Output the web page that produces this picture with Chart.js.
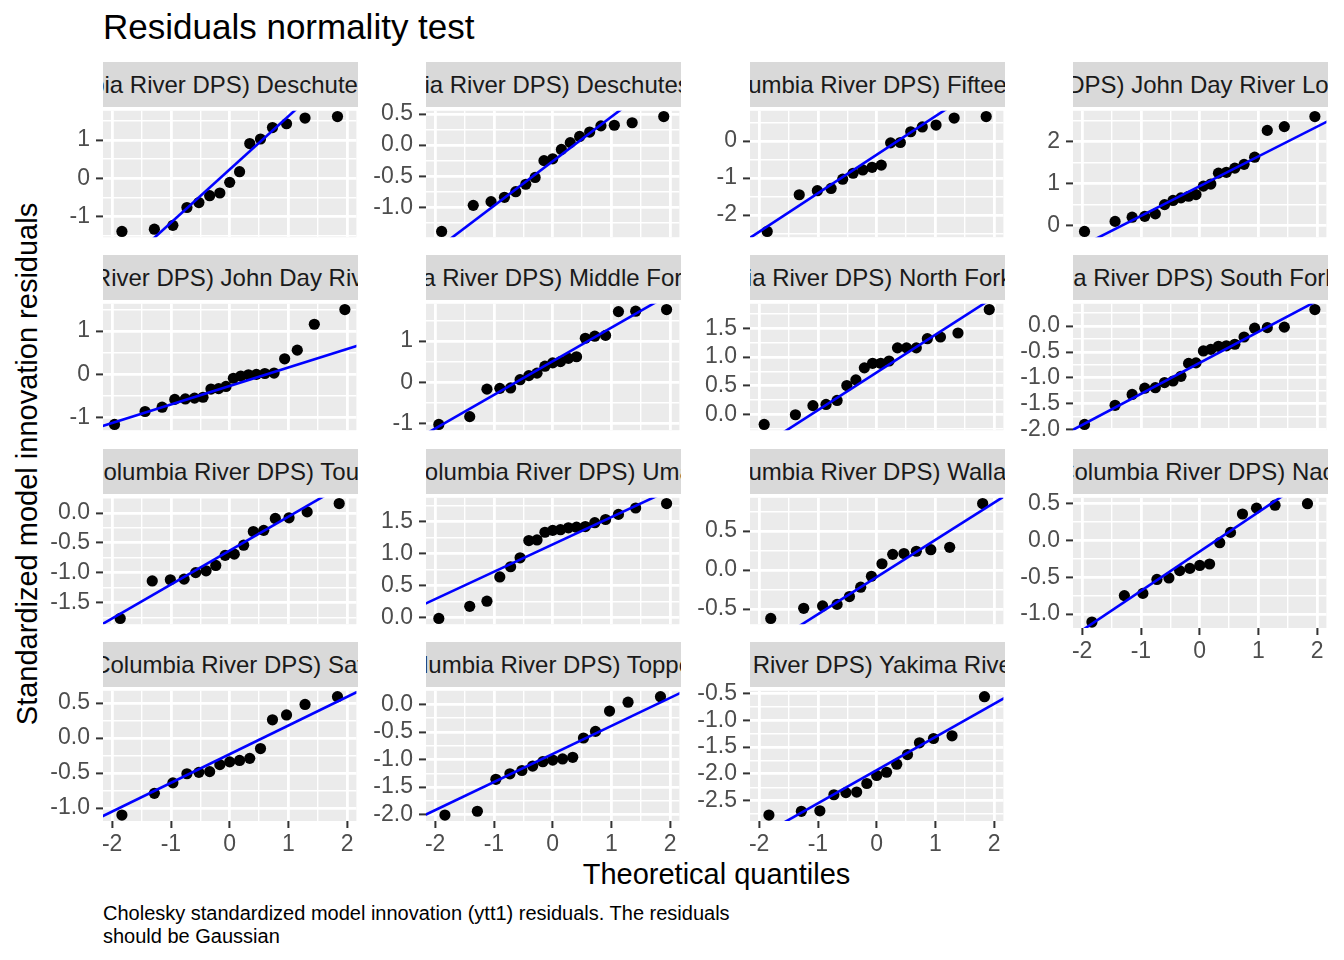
<!DOCTYPE html>
<html>
<head>
<meta charset="utf-8">
<script src="https://cdn.jsdelivr.net/npm/chart.js@4.4.1/dist/chart.umd.min.js"></script>
<style>
  body { margin: 0; background: #fff; font-family: "Liberation Sans", Arial, sans-serif; }
  #page { position: relative; width: 1344px; height: 960px; overflow: hidden; }
  .strip { position: absolute; height: 45px; background: #d9d9d9; color: #1a1a1a; font-size: 24px;
           display: flex; justify-content: center; align-items: center; overflow: hidden; white-space: nowrap; }
  .strip span { flex-shrink: 0; }
  canvas { position: absolute; }
  .title { position: absolute; left: 103px; top: 7px; font-size: 35px; line-height: 40px; color: #000; }
  .xtitle { position: absolute; left: 103px; width: 1227px; top: 857px; text-align: center; font-size: 29px; line-height: 34px; }
  .ytitle { position: absolute; left: -273px; top: 449px; width: 600px; height: 30px; line-height: 30px; text-align: center;
            font-size: 29px; transform: rotate(-90deg); }
  .caption { position: absolute; left: 103px; top: 902px; font-size: 20px; line-height: 23px; }
</style>
</head>
<body>
<div id="page">
  <div class="title">Residuals normality test</div>
  <div class="ytitle">Standardized model innovation residuals</div>
  <div class="xtitle">Theoretical quantiles</div>
  <div class="caption">Cholesky standardized model innovation (ytt1) residuals. The residuals<br>should be Gaussian</div>
</div>
<script>
// theoretical normal quantiles, one list per sample size
const q14 = [-1.803, -1.242, -0.921, -0.674, -0.464, -0.272, -0.090, 0.090, 0.272, 0.464, 0.674, 0.921, 1.242, 1.803];
const q15 = [-1.834, -1.282, -0.967, -0.728, -0.524, -0.341, -0.168, 0, 0.168, 0.341, 0.524, 0.728, 0.967, 1.282, 1.834];
const q16 = [-1.863, -1.318, -1.010, -0.776, -0.579, -0.402, -0.237, -0.078, 0.078, 0.237, 0.402, 0.579, 0.776, 1.010, 1.318, 1.863];
const q17 = [-1.890, -1.352, -1.049, -0.821, -0.629, -0.458, -0.299, -0.148, 0, 0.148, 0.299, 0.458, 0.629, 0.821, 1.049, 1.352, 1.890];
const q18 = [-1.915, -1.383, -1.085, -0.862, -0.674, -0.508, -0.354, -0.210, -0.070, 0.070, 0.210, 0.354, 0.508, 0.674, 0.862, 1.085, 1.383, 1.915];
const q19 = [-1.938, -1.412, -1.119, -0.900, -0.716, -0.555, -0.406, -0.267, -0.132, 0, 0.132, 0.267, 0.406, 0.555, 0.716, 0.900, 1.119, 1.412, 1.938];
const q20 = [-1.960, -1.440, -1.150, -0.935, -0.755, -0.598, -0.454, -0.319, -0.189, -0.063, 0.063, 0.189, 0.319, 0.454, 0.598, 0.755, 0.935, 1.150, 1.440, 1.960];

// sample residuals (sorted) per population
const resDeschutesE = [-1.40, -1.34, -1.24, -0.77, -0.64, -0.46, -0.39, -0.11, 0.17, 0.91, 1.03, 1.33, 1.43, 1.58, 1.62];
const resDeschutesW = [-1.39, -0.97, -0.91, -0.84, -0.75, -0.63, -0.52, -0.25, -0.22, -0.07, 0.04, 0.14, 0.21, 0.31, 0.32, 0.36, 0.46];
const resFifteenmile = [-2.44, -1.45, -1.34, -1.28, -1.03, -0.87, -0.78, -0.71, -0.65, -0.05, -0.04, 0.25, 0.38, 0.43, 0.62, 0.66];
const resJohnDayLower = [-0.14, 0.10, 0.20, 0.22, 0.28, 0.50, 0.60, 0.66, 0.70, 0.74, 0.94, 0.99, 1.25, 1.27, 1.37, 1.46, 1.63, 2.27, 2.36, 2.60];
const resJohnDayUpper = [-1.16, -0.86, -0.76, -0.58, -0.57, -0.55, -0.53, -0.34, -0.33, -0.28, -0.09, -0.04, -0.01, 0.00, 0.02, 0.03, 0.36, 0.56, 1.16, 1.50];
const resMiddleFork = [-1.03, -0.84, -0.17, -0.15, -0.14, 0.06, 0.16, 0.22, 0.39, 0.47, 0.50, 0.58, 0.62, 1.07, 1.12, 1.14, 1.72, 1.73, 1.77];
const resNorthFork = [-0.18, -0.01, 0.15, 0.17, 0.24, 0.50, 0.60, 0.81, 0.89, 0.89, 0.93, 1.16, 1.16, 1.16, 1.32, 1.35, 1.42, 1.83];
const resSouthFork = [-1.90, -1.53, -1.32, -1.20, -1.19, -1.09, -1.06, -0.97, -0.72, -0.71, -0.48, -0.45, -0.39, -0.38, -0.35, -0.21, -0.04, -0.03, -0.02, 0.32];
const resTouchet = [-1.77, -1.14, -1.12, -1.11, -1.00, -0.97, -0.88, -0.71, -0.69, -0.54, -0.31, -0.29, -0.09, -0.08, 0.02, 0.16];
const resUmatilla = [-0.02, 0.17, 0.25, 0.63, 0.79, 0.93, 1.20, 1.21, 1.33, 1.36, 1.37, 1.40, 1.41, 1.42, 1.48, 1.53, 1.61, 1.71, 1.78];
const resWallaWalla = [-0.62, -0.49, -0.46, -0.44, -0.34, -0.22, -0.08, 0.08, 0.20, 0.21, 0.24, 0.26, 0.29, 0.85];
const resNaches = [-1.11, -0.75, -0.72, -0.53, -0.51, -0.41, -0.38, -0.34, -0.32, -0.03, 0.11, 0.36, 0.44, 0.48, 0.50];
const resSatus = [-1.10, -0.79, -0.64, -0.51, -0.49, -0.48, -0.38, -0.34, -0.32, -0.29, -0.15, 0.26, 0.33, 0.48, 0.59];
const resToppenish = [-2.01, -1.94, -1.36, -1.26, -1.20, -1.12, -1.04, -1.01, -0.99, -0.96, -0.61, -0.49, -0.12, 0.04, 0.14];
const resYakima = [-2.77, -2.70, -2.69, -2.39, -2.35, -2.34, -2.18, -2.03, -1.97, -1.82, -1.64, -1.42, -1.34, -1.29, -0.56];

const populations = [
  "Deschutes River Eastside", "Deschutes River Westside", "Fifteenmile Creek",
  "John Day River Lower Mainstem Tributaries", "John Day River Upper Mainstem",
  "Middle Fork John Day River", "North Fork John Day River", "South Fork John Day River",
  "Touchet River", "Umatilla River", "Walla Walla River", "Naches River",
  "Satus Creek", "Toppenish Creek", "Yakima River Upper Mainstem"
];
const residuals = [resDeschutesE, resDeschutesW, resFifteenmile, resJohnDayLower, resJohnDayUpper,
  resMiddleFork, resNorthFork, resSouthFork, resTouchet, resUmatilla, resWallaWalla, resNaches,
  resSatus, resToppenish, resYakima];
const quantiles = [q15, q17, q16, q20, q20, q19, q18, q20, q16, q19, q14, q15, q15, q15, q15];
// qq reference line per panel
const lineIntercepts = [0.23, -0.26, -0.37, 0.94, -0.27, 0.51, 0.73, -0.71, -0.63, 1.14, -0.09, -0.15, -0.23, -0.90, -1.93];
const lineSlopes = [1.40, 0.717, 1.04, 0.71, 0.428, 0.82, 0.66, 0.60, 0.57, 0.428, 0.476, 0.536, 0.41, 0.51, 0.62];
const yTickSteps = [1, 0.5, 1, 1, 1, 1, 0.5, 0.5, 0.5, 0.5, 0.5, 0.5, 0.5, 0.5, 0.5];
const xTickStep = 1;

// layout
const colLeft = [103, 426, 750, 1073];
const rowTop = [107, 300, 494, 687];
const plotW = 255, plotH = 134, axisW = 72, stripH = 45, padTop = 16, xAxisH = 46;
const bottomPanels = [11, 12, 13, 14];

Chart.defaults.font.family = '"Liberation Sans", Arial, sans-serif';

const panelBg = {
  id: 'panelBg',
  beforeDraw(chart) {
    const { ctx, chartArea: a } = chart;
    ctx.save();
    ctx.fillStyle = '#ebebeb';
    ctx.fillRect(a.left, a.top, a.right - a.left, a.bottom - a.top);
    ctx.restore();
  }
};

function halfTicks(min, max, step) {
  const h = step / 2, out = [];
  for (let v = Math.ceil(min / h - 1e-9) * h; v <= max + 1e-9; v += h) out.push({ value: +v.toFixed(6) });
  return out;
}
function isMajor(v, step) {
  return Math.abs(v / step - Math.round(v / step)) < 1e-6;
}

const allQ = [].concat(...quantiles);
const xSpan = Math.max(...allQ.map(Math.abs)) * 1.1;
const page = document.getElementById('page');

residuals.forEach((ys, i) => {
  const row = Math.floor(i / 4), col = i % 4;
  const hasX = bottomPanels.includes(i);
  const xs = quantiles[i];
  const step = yTickSteps[i];
  const lo = Math.min(...ys), hi = Math.max(...ys);
  const yMin = lo - 0.05 * (hi - lo), yMax = hi + 0.05 * (hi - lo);

  const strip = document.createElement('div');
  strip.className = 'strip';
  strip.style.left = colLeft[col] + 'px';
  strip.style.top = (rowTop[row] - stripH) + 'px';
  strip.style.width = plotW + 'px';
  strip.innerHTML = '<span>Steelhead (Middle Columbia River DPS) ' + populations[i] + ' - summer</span>';
  page.appendChild(strip);

  const cv = document.createElement('canvas');
  const w = axisW + plotW + 4, h = padTop + plotH + (hasX ? xAxisH : padTop);
  cv.width = w; cv.height = h;
  cv.style.left = (colLeft[col] - axisW) + 'px';
  cv.style.top = (rowTop[row] - padTop) + 'px';
  cv.style.width = w + 'px'; cv.style.height = h + 'px';
  page.appendChild(cv);

  const a = lineIntercepts[i], b = lineSlopes[i];
  const gridOpts = (st) => ({
    color: '#ffffff',
    lineWidth: c => isMajor(c.tick.value, st) ? 2.8 : 1.4,
    tickColor: c => isMajor(c.tick.value, st) ? '#333333' : 'rgba(0,0,0,0)',
    tickWidth: 2,
    tickLength: 7
  });

  new Chart(cv, {
    type: 'scatter',
    data: {
      datasets: [
        {
          data: [{ x: -xSpan * 1.2, y: a - b * xSpan * 1.2 }, { x: xSpan * 1.2, y: a + b * xSpan * 1.2 }],
          showLine: true, borderColor: '#0000ff', borderWidth: 2.6, pointRadius: 0, clip: 0, order: 0
        },
        {
          data: xs.map((x, j) => ({ x: x, y: ys[j] })),
          backgroundColor: '#000000', borderWidth: 0, pointRadius: 5.6, order: 1
        }
      ]
    },
    options: {
      responsive: false,
      animation: false,
      events: [],
      layout: { padding: { top: padTop, bottom: hasX ? 0 : padTop, left: 0, right: 4 } },
      plugins: { legend: { display: false }, tooltip: { enabled: false } },
      scales: {
        x: {
          type: 'linear', min: -xSpan, max: xSpan,
          afterBuildTicks: s => { s.ticks = halfTicks(-xSpan, xSpan, xTickStep); },
          afterFit: s => { s.height = hasX ? xAxisH : 0; },
          ticks: {
            display: hasX, autoSkip: false, maxRotation: 0, padding: 3,
            color: '#4d4d4d', font: { size: 23 },
            callback: v => isMajor(v, xTickStep) ? String(Math.round(v)) : ''
          },
          grid: Object.assign(gridOpts(xTickStep), { drawTicks: hasX }),
          border: { display: false }
        },
        y: {
          type: 'linear', min: yMin, max: yMax,
          afterBuildTicks: s => { s.ticks = halfTicks(yMin, yMax, step); },
          afterFit: s => { s.width = axisW; },
          ticks: {
            autoSkip: false, padding: 6,
            color: '#4d4d4d', font: { size: 23 },
            callback: v => isMajor(v, step) ? (step < 1 ? (Math.abs(v) < 1e-9 ? 0 : v).toFixed(1) : String(Math.round(v))) : ''
          },
          grid: gridOpts(step),
          border: { display: false }
        }
      }
    },
    plugins: [panelBg]
  });
});
</script>
</body>
</html>
